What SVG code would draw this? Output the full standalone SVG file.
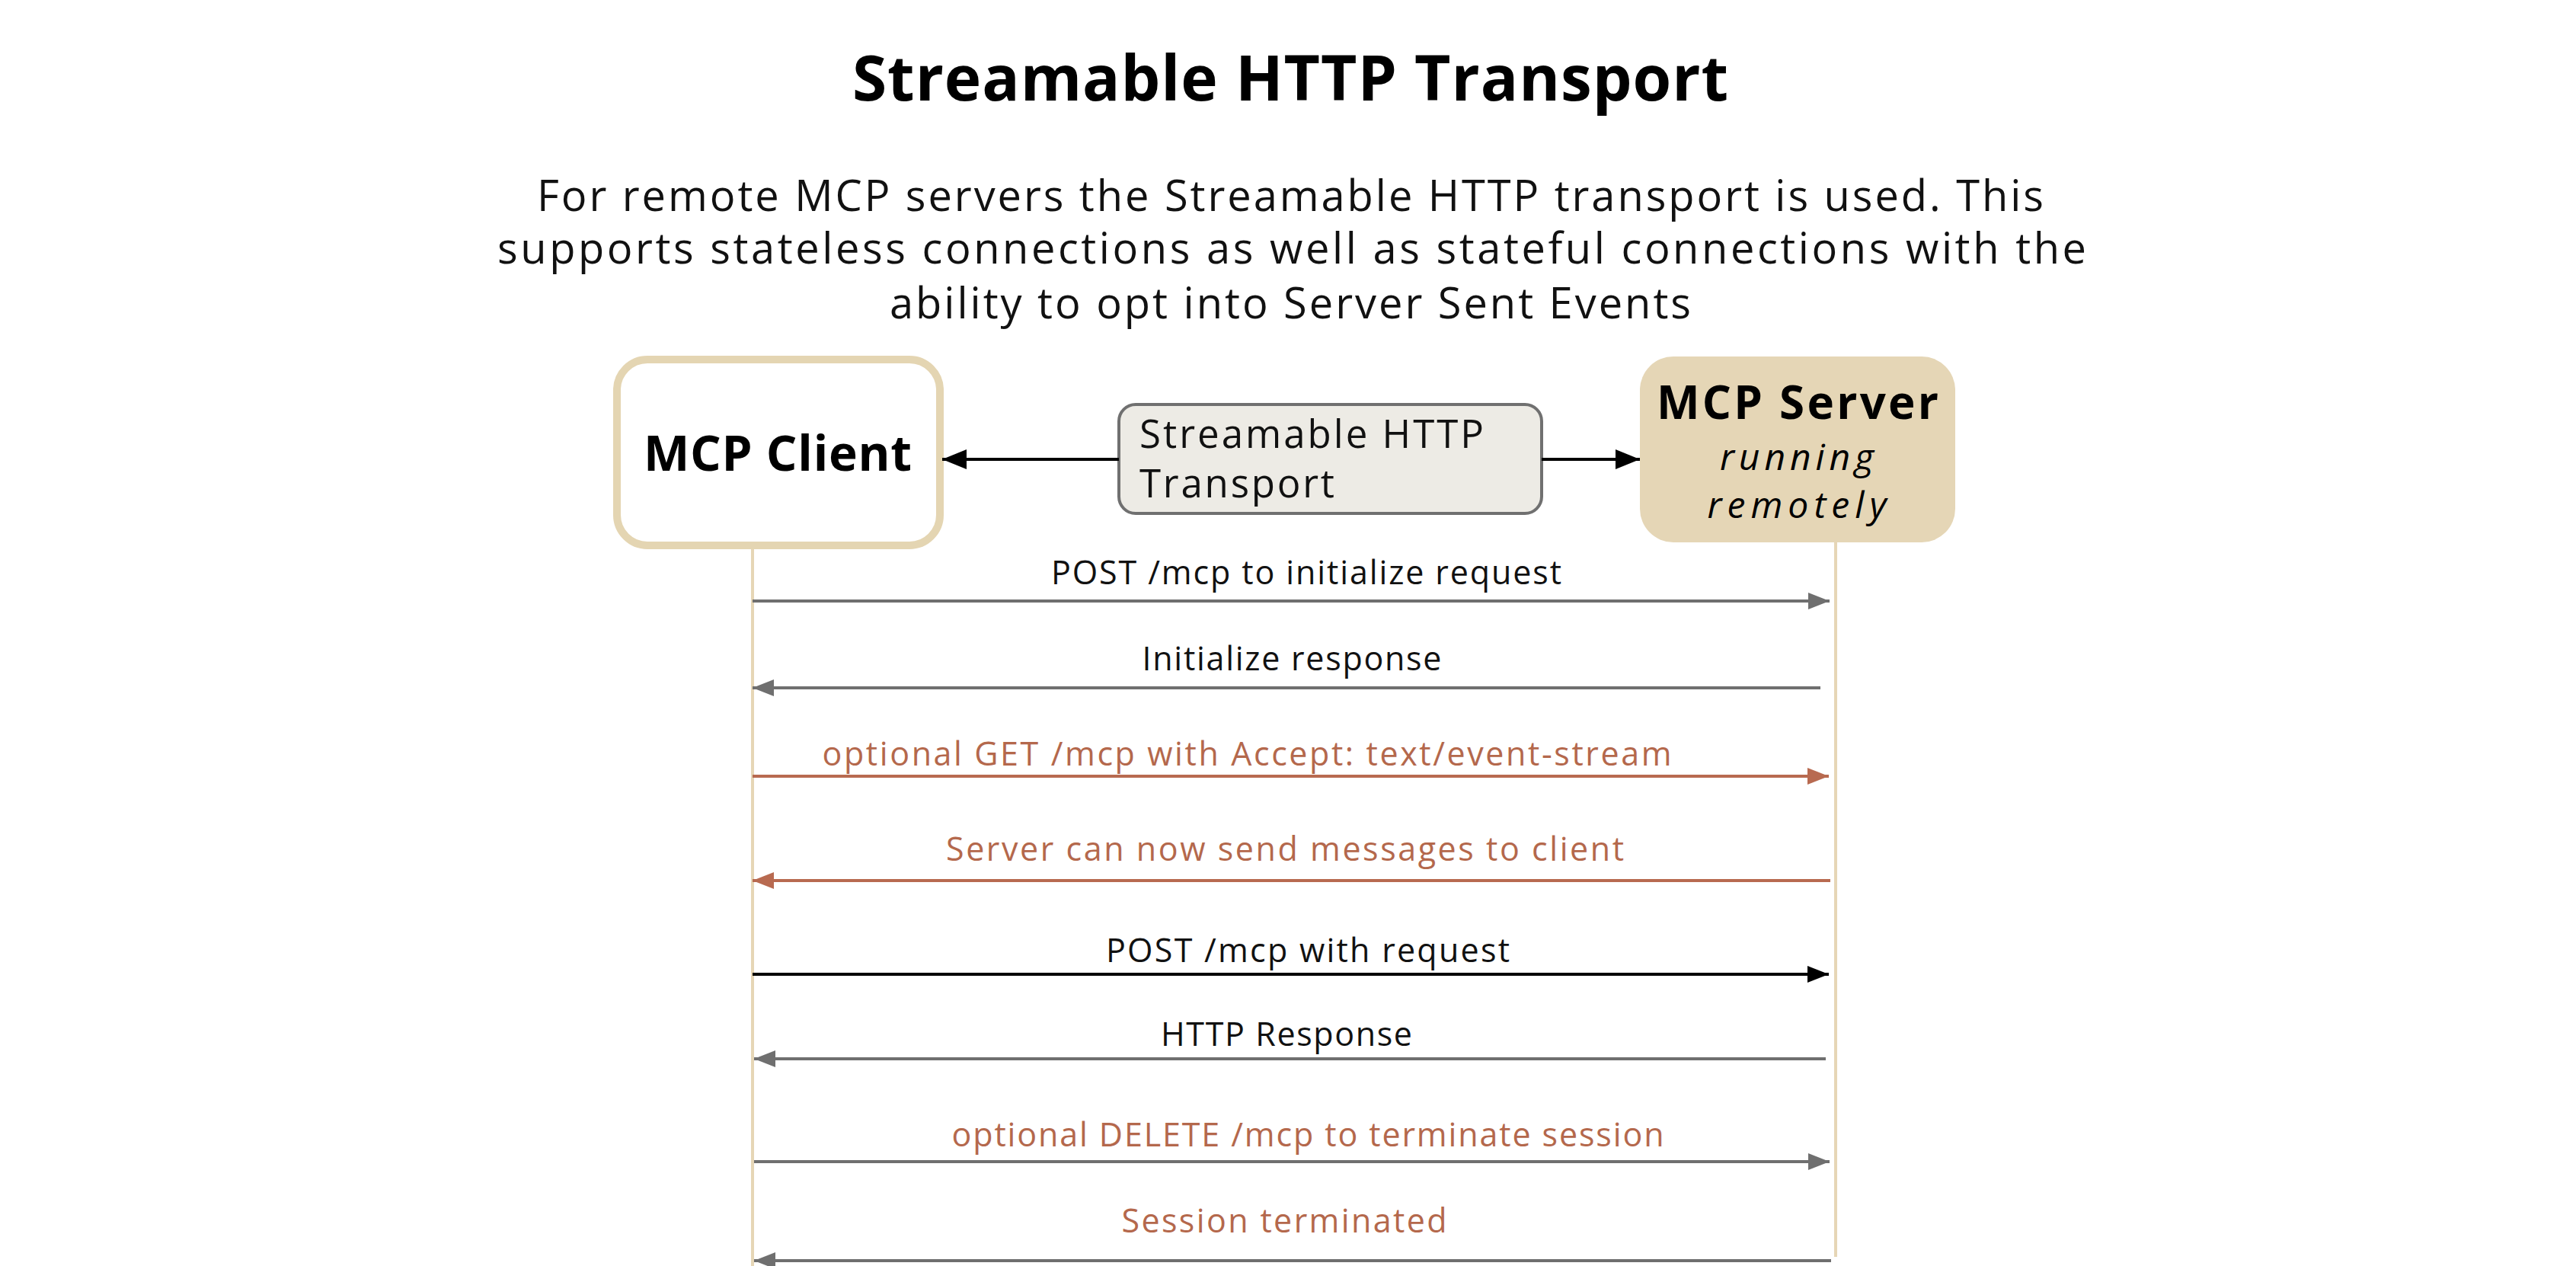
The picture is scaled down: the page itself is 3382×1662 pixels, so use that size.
<svg xmlns="http://www.w3.org/2000/svg" width="3382" height="1662" viewBox="0 0 3382 1662">
  <style>
    text { font-family: "Open Sans", "Noto Sans", "Liberation Sans", sans-serif; }
    .title { font-size: 82px; font-weight: 700; fill: #000; }
    .sub { font-size: 56px; font-weight: 400; fill: #111; }
    .nodeb { font-size: 64px; font-weight: 700; fill: #000; }
    .nodeb2 { font-size: 60px; font-weight: 700; fill: #000; }
    .nodei { font-size: 48px; font-style: italic; fill: #000; }
    .tr { font-size: 51px; fill: #111; }
    .lbl { font-size: 43px; fill: #111; }
    .lbl.or { fill: #B4684C; }
    .life { stroke: #E6D6B6; stroke-width: 4; fill: none; }
    .msg { stroke-width: 4; fill: none; }
    .grey { stroke: #6F6F6F; }
    .orange { stroke: #B86A50; }
    .black { stroke: #000; }
  </style>
  <defs>
    <marker id="hg" markerUnits="userSpaceOnUse" markerWidth="30" markerHeight="24" refX="28" refY="11" orient="auto">
      <path d="M0,0 L28,11 L0,22 z" fill="#6F6F6F"/>
    </marker>
    <marker id="ho" markerUnits="userSpaceOnUse" markerWidth="30" markerHeight="24" refX="28" refY="11" orient="auto">
      <path d="M0,0 L28,11 L0,22 z" fill="#B86A50"/>
    </marker>
    <marker id="hb" markerUnits="userSpaceOnUse" markerWidth="30" markerHeight="24" refX="28" refY="11" orient="auto">
      <path d="M0,0 L28,11 L0,22 z" fill="#000"/>
    </marker>
    <marker id="hbig" markerUnits="userSpaceOnUse" markerWidth="34" markerHeight="28" refX="32" refY="13" orient="auto">
      <path d="M0,0 L32,13 L0,26 z" fill="#000"/>
    </marker>
  </defs>
  <rect width="3382" height="1662" fill="#FFFFFF"/>

  <g id="header">
    <text class="title" x="1694" y="132" text-anchor="middle" textLength="1150">Streamable HTTP Transport</text>
    <text class="sub" x="1694" y="277" text-anchor="middle" textLength="1978">For remote MCP servers the Streamable HTTP transport is used. This</text>
    <text class="sub" x="1696" y="346" text-anchor="middle" textLength="2086">supports stateless connections as well as stateful connections with the</text>
    <text class="sub" x="1694" y="418" text-anchor="middle" textLength="1052">ability to opt into Server Sent Events</text>
  </g>

  <g id="lifelines">
    <line class="life" x1="988" y1="718" x2="988" y2="1662"/>
    <line class="life" x1="2410" y1="712" x2="2410" y2="1650"/>
  </g>

  <g id="mcp-client">
    <rect x="810" y="472" width="424" height="244" rx="40" ry="40" fill="#FFFFFF" stroke="#E4D5B2" stroke-width="10"/>
    <text class="nodeb" x="1021" y="618" text-anchor="middle" textLength="352">MCP Client</text>
  </g>

  <g id="transport">
    <rect x="1469" y="531" width="555" height="143" rx="22" ry="22" fill="#EDEBE5" stroke="#707070" stroke-width="4"/>
    <text class="tr" x="1496" y="588" textLength="452">Streamable HTTP</text>
    <text class="tr" x="1496" y="653" textLength="256">Transport</text>
  </g>

  <g id="mcp-server">
    <rect x="2153" y="468" width="414" height="244" rx="44" ry="44" fill="#E5D6B6"/>
    <text class="nodeb2" x="2360" y="550" text-anchor="middle" textLength="370">MCP Server</text>
    <text class="nodei" x="2359" y="617" text-anchor="middle" textLength="202">running</text>
    <text class="nodei" x="2359" y="680" text-anchor="middle" textLength="235">remotely</text>
  </g>

  <g id="connectors">
    <line class="msg black" x1="1469" y1="603" x2="1237" y2="603" stroke-width="6" marker-end="url(#hbig)"/>
    <line class="msg black" x1="2024" y1="603" x2="2153" y2="603" stroke-width="6" marker-end="url(#hbig)"/>

    <line class="msg grey" x1="988" y1="789" x2="2402" y2="789" marker-end="url(#hg)"/>
    <line class="msg grey" x1="2390" y1="903" x2="988" y2="903" marker-end="url(#hg)"/>
    <line class="msg orange" x1="988" y1="1019" x2="2401" y2="1019" marker-end="url(#ho)"/>
    <line class="msg orange" x1="2403" y1="1156" x2="988" y2="1156" marker-end="url(#ho)"/>
    <line class="msg black" x1="988" y1="1279" x2="2401" y2="1279" marker-end="url(#hb)"/>
    <line class="msg grey" x1="2397" y1="1390" x2="990" y2="1390" marker-end="url(#hg)"/>
    <line class="msg grey" x1="990" y1="1525" x2="2402" y2="1525" marker-end="url(#hg)"/>
    <line class="msg grey" x1="2404" y1="1655" x2="990" y2="1655" marker-end="url(#hg)"/>
  </g>

  <g id="labels">
    <text class="lbl" x="1715" y="767" text-anchor="middle" textLength="670">POST /mcp to initialize request</text>
    <text class="lbl" x="1696" y="880" text-anchor="middle" textLength="393">Initialize response</text>
    <text class="lbl or" x="1637" y="1005" text-anchor="middle" textLength="1115">optional GET /mcp with Accept: text/event-stream</text>
    <text class="lbl or" x="1687" y="1130" text-anchor="middle" textLength="890">Server can now send messages to client</text>
    <text class="lbl" x="1717" y="1263" text-anchor="middle" textLength="530">POST /mcp with request</text>
    <text class="lbl" x="1689" y="1373" text-anchor="middle" textLength="330">HTTP Response</text>
    <text class="lbl or" x="1717" y="1505" text-anchor="middle" textLength="935">optional DELETE /mcp to terminate session</text>
    <text class="lbl or" x="1686" y="1618" text-anchor="middle" textLength="427">Session terminated</text>
  </g>
</svg>
